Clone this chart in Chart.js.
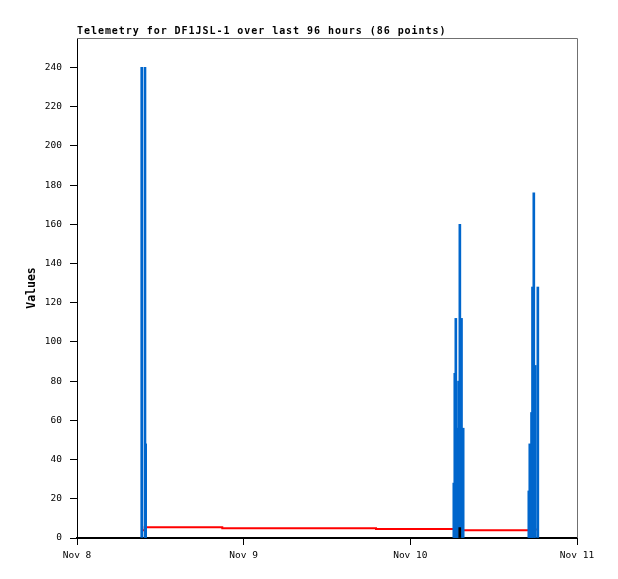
<!DOCTYPE html>
<html>
<head>
<meta charset="utf-8">
<title>Telemetry for DF1JSL-1</title>
<script src="https://cdn.jsdelivr.net/npm/chart.js@4.4.1/dist/chart.umd.min.js"></script>
<style>
  html, body { margin: 0; padding: 0; background: #fff; }
  canvas { display: block; }
</style>
</head>
<body>
<canvas id="telemetry" width="618" height="579"></canvas>
<script>
// x values are hours since Nov 8 00:00
var xTickHours = [0, 24, 48, 72];
var xTickLabels = ['Nov 8', 'Nov 9', 'Nov 10', 'Nov 11'];
var yTicks = [0, 20, 40, 60, 80, 100, 120, 140, 160, 180, 200, 220, 240];

// blue channel (impulses)
var blueHours = [9.32, 9.79, 9.89,
	54.26, 54.40, 54.55, 54.75, 54.94, 55.13, 55.37, 55.61,
	65.06, 65.20, 65.45, 65.59, 65.78, 66.00, 66.36];
var blueValues = [240, 240, 48,
	28, 84, 112, 56, 80, 160, 112, 56,
	24, 48, 64, 128, 176, 88, 128];

// red channel (steps)
var redHours = [9.46, 9.75, 20.92, 43.06, 54.43, 65.95, 66.2];
var redValues = [4.0, 5.5, 5.0, 4.6, 3.9, 4.3, 4.3];

// black channel (impulses)
var blackHours = [55.12];
var blackValues = [5.3];

function toPoints(xs, ys) {
	return xs.map(function (x, i) { return { x: x, y: ys[i] }; });
}

var monoFont = '"DejaVu Sans Mono", "Liberation Mono", monospace';

// top/right frame and the title above the plot
var framePlugin = {
	id: 'frame',
	beforeDatasetsDraw: function (chart) {
		var ctx = chart.ctx, a = chart.chartArea;
		ctx.save();
		ctx.strokeStyle = '#707070';
		ctx.lineWidth = 1;
		ctx.beginPath();
		ctx.moveTo(a.left, a.top + 0.5);
		ctx.lineTo(a.right + 0.5, a.top + 0.5);
		ctx.lineTo(a.right + 0.5, a.bottom);
		ctx.stroke();
		ctx.restore();
	},
	afterDraw: function (chart) {
		var ctx = chart.ctx, a = chart.chartArea;
		ctx.save();
		ctx.fillStyle = '#000';
		ctx.font = 'bold 10px ' + monoFont;
		if ('letterSpacing' in ctx) ctx.letterSpacing = '0.95px';
		ctx.textAlign = 'left';
		ctx.textBaseline = 'alphabetic';
		ctx.fillText('Telemetry for DF1JSL-1 over last 96 hours (86 points)', a.left, a.top - 4);
		ctx.restore();
	}
};

var ctx = document.getElementById('telemetry').getContext('2d');
var chart = new Chart(ctx, {
	type: 'bar',
	data: {
		datasets: [
			{
				type: 'line',
				label: 'red',
				data: toPoints(redHours, redValues),
				borderColor: '#ff0000',
				borderWidth: 2,
				stepped: 'before',
				pointRadius: 0,
				fill: false,
				order: 2,
			},
			{
				label: 'blue',
				data: toPoints(blueHours, blueValues),
				backgroundColor: '#0066cc',
				borderWidth: 0,
				barThickness: 2,
				grouped: false,
				order: 1,
			},
			{
				label: 'black',
				data: toPoints(blackHours, blackValues),
				backgroundColor: '#000000',
				borderWidth: 0,
				barThickness: 2,
				grouped: false,
				order: 0,
			},
		],
	},
	options: {
		responsive: false,
		animation: false,
		devicePixelRatio: 1,
		layout: { padding: { top: 38, right: 41, bottom: 0, left: 0 } },
		plugins: {
			legend: { display: false },
			tooltip: { enabled: false },
			title: { display: false },
		},
		scales: {
			x: {
				type: 'linear',
				min: 0,
				max: 72,
				offset: false,
				afterBuildTicks: function (scale) {
					scale.ticks = xTickHours.map(function (v) { return { value: v }; });
				},
				afterFit: function (scale) { scale.height = 41; },
				ticks: {
					autoSkip: false,
					maxRotation: 0,
					padding: 5,
					color: '#000',
					font: { family: monoFont, size: 9.5 },
					callback: function (value) {
						var i = xTickHours.indexOf(value);
						return i >= 0 ? xTickLabels[i] : '';
					},
				},
				grid: {
					offset: false,
					drawOnChartArea: false,
					drawTicks: true,
					tickLength: 7,
					tickColor: '#000',
					tickWidth: 1,
				},
				border: { display: true, color: '#000', width: 2 },
			},
			y: {
				type: 'linear',
				min: 0,
				max: 255,
				afterBuildTicks: function (scale) {
					scale.ticks = yTicks.map(function (v) { return { value: v }; });
				},
				afterFit: function (scale) { scale.width = 77; },
				ticks: {
					padding: 8,
					color: '#000',
					font: { family: monoFont, size: 9.5 },
				},
				grid: {
					drawOnChartArea: false,
					drawTicks: true,
					tickLength: 7,
					tickColor: '#000',
					tickWidth: 1,
				},
				border: { display: true, color: '#000', width: 1 },
				title: {
					display: true,
					text: 'Values',
					color: '#000',
					font: { family: monoFont, size: 11.5, weight: 'bold' },
					padding: { top: 25, bottom: 0 },
				},
			},
		},
	},
	plugins: [framePlugin],
});
</script>
</body>
</html>
